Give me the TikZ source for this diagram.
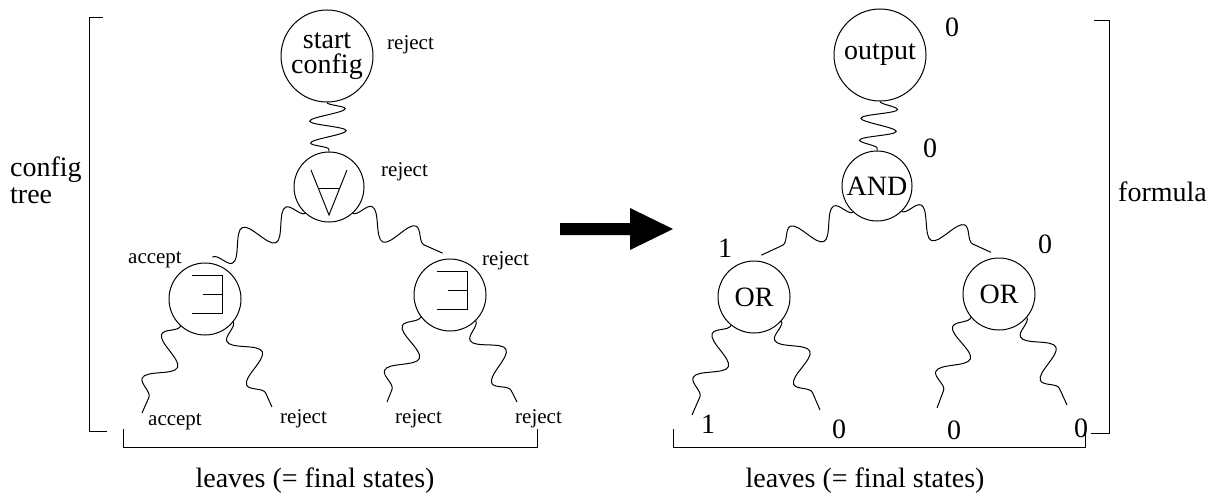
\documentclass[tikz,border=0pt]{standalone}
\usepackage{fontspec}
\setmainfont{Liberation Serif}
\usetikzlibrary{decorations.pathmorphing}
\begin{document}
\begin{tikzpicture}[x=1pt,y=-1pt,
  state/.style={circle, draw, line width=1pt, inner sep=0pt, font=\fontsize{28}{25}\selectfont},
  wavy/.style={decorate, line width=1pt, decoration={snake, segment length=48pt, amplitude=14pt}},
  riser/.style={decorate, line width=1pt, decoration={snake, segment length=22pt, amplitude=18pt}},
  flip/.style={decoration={mirror}},
  lbl/.style={inner sep=0pt, anchor=base west, font=\fontsize{21}{24}\selectfont},
  val/.style={inner sep=0pt, anchor=base west, font=\fontsize{28}{30}\selectfont},
  caption/.style={inner sep=0pt, anchor=base, font=\fontsize{28}{30}\selectfont},
  rule/.style={line width=1pt},
  forallmark/.pic={\draw[line width=1pt] (-18,-17) -- (0,28) -- (18,-17);
                   \draw[line width=1pt] (-10.5,1) -- (10.5,1);},
  existsmark/.pic={\draw[line width=1pt] (-13.5,-23.5) -- (17,-23.5) -- (17,14.5) -- (-13.5,14.5);
                   \draw[line width=1pt] (-2,-4.5) -- (17,-4.5);},
]
\useasboundingbox (0,0) rectangle (1222,495);

% ---------- configuration tree ----------
\node[state, minimum size=92pt, align=center] (start) at (327,56) {start\\config};
\node[state, minimum size=70pt] (fa)  at (329,187) {};
\node[state, minimum size=72pt] (exL) at (205,299) {};
\node[state, minimum size=72pt] (exR) at (450,295) {};
\pic at (fa.center)  {forallmark};
\pic at (exL.center) {existsmark};
\pic at (exR.center) {existsmark};

\coordinate (lfA) at (142,413);
\coordinate (lfB) at (272,407);
\coordinate (lfC) at (387,402);
\coordinate (lfD) at (517,402);

\draw[riser] (start.south) -- (fa.north);
\draw[wavy, flip] (fa.228) -- ([shift={(80:6pt)}]exL.80);
\draw[wavy] (fa.312) -- ([shift={(100:6pt)}]exR.100);
\draw[wavy, flip] (exL.228) -- (lfA);
\draw[wavy, flip] (exL.321) -- (lfB);
\draw[wavy, flip] (exR.217) -- (lfC);
\draw[wavy, flip] (exR.315) -- (lfD);

\node[lbl] (rjS) at (387,50)  {reject};
\node[lbl] (rjF) at (381,176) {reject};
\node[lbl] (acL) at (128,263) {accept};
\node[lbl] (rjR) at (482,265) {reject};
\node[lbl] (lvA) at (148,425) {accept};
\node[lbl] (lvB) at (280,423) {reject};
\node[lbl] (lvC) at (395,423) {reject};
\node[lbl] (lvD) at (515,423) {reject};

\node[val] (cfg)  at (10,176) {config};
\node[val] (tree) at (10,203) {tree};
\draw[rule] (103,18) -- (89,18) -- (89,431) -- (107,431);
\draw[rule] (123,429) -- (123,447) -- (537,447) -- (537,429);
\node[caption] (capL) at (315,487) {leaves (= final states)};

% ---------- transformation arrow ----------
\fill (560,223) -- (630,223) -- (630,208) -- (673,229) -- (630,250) -- (630,235) -- (560,235) -- cycle;

% ---------- formula ----------
\node[state, minimum size=92pt] (out) at (880,55)  {output};
\node[state, minimum size=70pt] (and) at (877,186) {AND};
\node[state, minimum size=72pt] (orL) at (754,297) {OR};
\node[state, minimum size=72pt] (orR) at (999,294) {OR};

\coordinate (lfE) at (692,415);
\coordinate (lfF) at (820,410);
\coordinate (lfG) at (937,408);
\coordinate (lfH) at (1067,405);

\draw[riser] (out.south) -- (and.north);
\draw[wavy, flip] (and.228) -- ([shift={(80:6pt)}]orL.80);
\draw[wavy] (and.314) -- ([shift={(101:6pt)}]orR.101);
\draw[wavy, flip] (orL.231) -- (lfE);
\draw[wavy, flip] (orL.319) -- (lfF);
\draw[wavy, flip] (orR.220) -- (lfG);
\draw[wavy, flip] (orR.320) -- (lfH);

\node[val] (vOut) at (945,37)  {0};
\node[val] (vAnd) at (923,157) {0};
\node[val] (vOrL) at (718,257) {1};
\node[val] (vOrR) at (1038,253) {0};
\node[val] (vE) at (701,433) {1};
\node[val] (vF) at (832,438) {0};
\node[val] (vG) at (947,439) {0};
\node[val] (vH) at (1074,437) {0};

\node[val] (fml) at (1118,201) {formula};
\draw[rule] (1094,21) -- (1109,21) -- (1109,433) -- (1091,433);
\draw[rule] (673,429) -- (673,447) -- (1085,447) -- (1085,432);
\node[caption] (capR) at (865,487) {leaves (= final states)};
\end{tikzpicture}
\end{document}
